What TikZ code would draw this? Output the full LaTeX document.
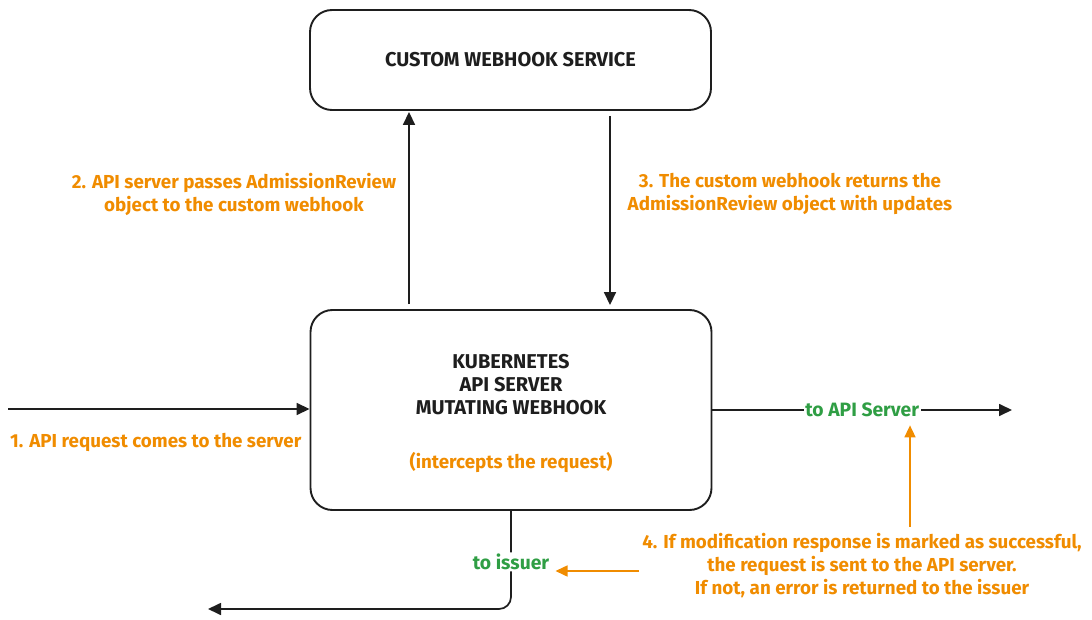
\documentclass[tikz,border=0pt]{standalone}
\usepackage{fontspec}
\setmainfont{Fira Sans}
\usetikzlibrary{arrows.meta,calc}
\definecolor{ink}{HTML}{1E1E1E}
\definecolor{orng}{HTML}{F08C00}
\definecolor{grn}{HTML}{2F9E44}
\begin{document}
\begin{tikzpicture}[x=1pt,y=-1pt,
  box/.style={draw=ink,line width=1.9pt,rounded corners=22pt,minimum width=401pt,inner sep=0pt},
  title/.style={font=\bfseries\fontsize{20}{23}\selectfont,text=ink,align=center},
  note/.style={font=\bfseries\fontsize{18.8}{23}\selectfont,text=orng,align=center,inner sep=0pt},
  glabel/.style={font=\bfseries\fontsize{19.3}{20}\selectfont,text=grn,fill=white,inner sep=1.5pt},
  arr/.style={draw=ink,line width=1.7pt,-{Triangle[length=13pt,width=12pt]}},
  oarr/.style={draw=orng,line width=1.6pt,-{Triangle[length=12pt,width=11pt]}}]
\useasboundingbox (0,0) rectangle (1092,620);

% boxes
\node[box,minimum height=100pt,title] (svc) at (510.5,60) {CUSTOM WEBHOOK SERVICE};
\node[box,minimum height=200pt] (api) at (511,410) {};
\node[title] (k8s) at (511,385) {KUBERNETES\\API SERVER\\MUTATING WEBHOOK};
\node[note] (icpt) at (511,463) {(intercepts the request)};

% notes
\node[note,anchor=west] (n1) at (10,442) {1. API request comes to the server};
\node[note] (n2) at (234,194) {2. API server passes AdmissionReview\\object to the custom webhook};
\node[note] (n3) at (790,194) {3. The custom webhook returns the\\AdmissionReview object with updates};
\node[note] (n4) at (862,566) {4. If modification response is marked as successful,\\the request is sent to the API server.\\If not, an error is returned to the issuer};

% coordinates
\coordinate (upx) at (409,0);
\coordinate (dnx) at (610,0);
\coordinate (in) at (8,409);
\coordinate (out) at (1012,410);
\coordinate (iss) at (208,609);
\coordinate (ox) at (910,0);
\coordinate (o2) at (639,571);

% connectors
\draw[arr,shorten <=5pt,shorten >=1pt] (api.north -| upx) -- (svc.south -| upx);
\draw[arr,shorten <=5pt,shorten >=4pt] (svc.south -| dnx) -- (api.north -| dnx);
\draw[arr] (in) -- (api.west |- in);
\draw[arr] (api.east) -- (out) node[glabel,pos=0.5] (toapi) {to API Server};
\draw[arr,rounded corners=12pt] (api.south) |- (iss) node[glabel,pos=0.26] (toiss) {to issuer};
\draw[oarr,shorten <=7pt,shorten >=6pt] (n4.north -| ox) -- (toapi.south -| ox);
\draw[oarr,shorten >=4pt] (o2) -- (toiss.east |- o2);
\end{tikzpicture}
\end{document}
